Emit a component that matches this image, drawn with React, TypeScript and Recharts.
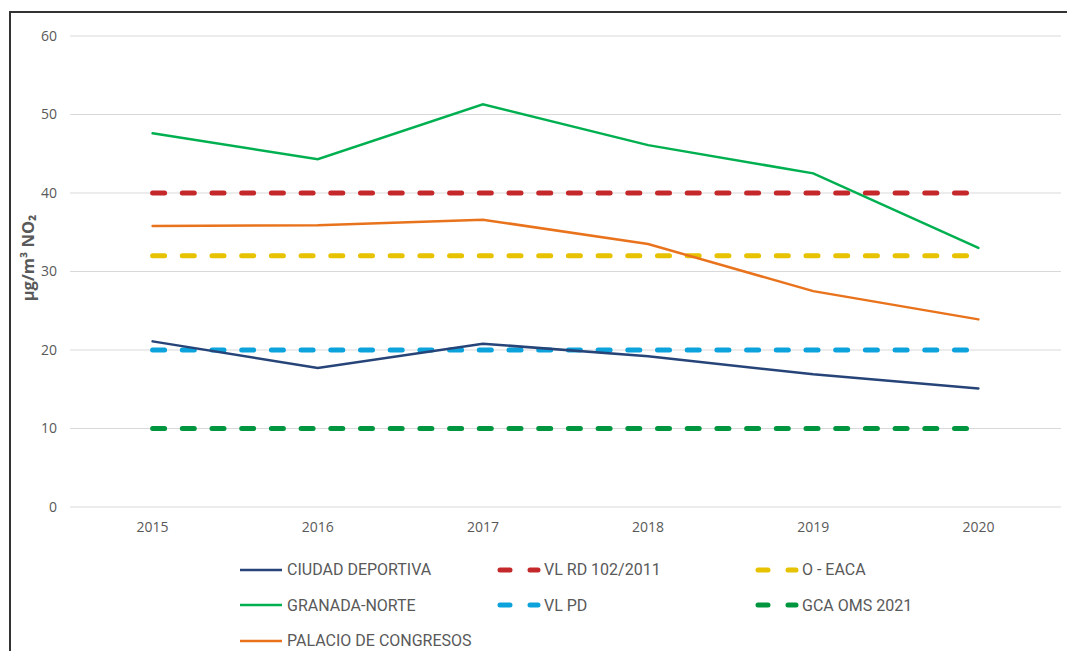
import React from 'react';
import { LineChart, Line, XAxis, YAxis, CartesianGrid } from 'recharts';

const years = ['2015', '2016', '2017', '2018', '2019', '2020'];
const ciudadDeportiva = [21.1, 17.7, 20.8, 19.2, 16.9, 15.1];
const granadaNorte = [47.6, 44.3, 51.3, 46.1, 42.5, 33.0];
const palacioCongresos = [35.8, 35.9, 36.6, 33.5, 27.5, 23.9];
const vlRd = [40, 40, 40, 40, 40, 40];
const oEaca = [32, 32, 32, 32, 32, 32];
const vlPd = [20, 20, 20, 20, 20, 20];
const gcaOms = [10, 10, 10, 10, 10, 10];
const yTicks = [0, 10, 20, 30, 40, 50, 60];

const data = years.map((year, i) => ({
  year,
  ciudad: ciudadDeportiva[i],
  granada: granadaNorte[i],
  palacio: palacioCongresos[i],
  vlRd: vlRd[i],
  oEaca: oEaca[i],
  vlPd: vlPd[i],
  gca: gcaOms[i],
}));

interface SeriesDef {
  key: string;
  name: string;
  color: string;
  dashed: boolean;
}

const series: SeriesDef[] = [
  { key: 'ciudad', name: 'CIUDAD DEPORTIVA', color: '#264478', dashed: false },
  { key: 'vlRd', name: 'VL RD 102/2011', color: '#c5282a', dashed: true },
  { key: 'oEaca', name: 'O - EACA', color: '#e6c200', dashed: true },
  { key: 'granada', name: 'GRANADA-NORTE', color: '#00b050', dashed: false },
  { key: 'vlPd', name: 'VL PD', color: '#0ca3dc', dashed: true },
  { key: 'gca', name: 'GCA OMS 2021', color: '#00963f', dashed: true },
  { key: 'palacio', name: 'PALACIO DE CONGRESOS', color: '#e9731c', dashed: false },
];

const textColor = '#595959';
const tickFont = { fill: textColor, fontSize: 14, fontFamily: "'Open Sans', sans-serif" };

const LegendIcon = ({ s }: { s: SeriesDef }) => (
  <svg width={44} height={8} style={{ marginRight: 3 }}>
    {s.dashed ? (
      <line x1={3} y1={4} x2={41} y2={4} stroke={s.color} strokeWidth={5} strokeLinecap="round" strokeDasharray="10 20" />
    ) : (
      <line x1={0} y1={4} x2={42} y2={4} stroke={s.color} strokeWidth={2.5} />
    )}
  </svg>
);

const AxisTitle = () => (
  <text
    x={27}
    y={258}
    transform="rotate(-90, 27, 258)"
    textAnchor="middle"
    dominantBaseline="central"
    fill={textColor}
    fontSize={16.5}
    fontWeight="bold"
    fontFamily="'Open Sans', sans-serif"
  >
    µg/m³ NO₂
  </text>
);

export default function App() {
  const drawOrder = ['vlRd', 'oEaca', 'vlPd', 'gca', 'ciudad', 'granada', 'palacio'];
  return (
    <div style={{ position: 'absolute', left: 0, top: 0, width: 1067, height: 651, background: '#fff', overflow: 'hidden' }}>
      <div style={{ position: 'absolute', left: 9, top: 11, width: 1100, height: 700, borderLeft: '2px solid #333', borderTop: '2px solid #333' }} />
      <div style={{ position: 'absolute', left: 0, top: 0 }}>
        <LineChart width={1067} height={545} data={data} margin={{ top: 36, right: 6, left: 10, bottom: 8 }}>
          <CartesianGrid vertical={false} stroke="#d9d9d9" strokeWidth={1} />
          <XAxis
            dataKey="year"
            axisLine={false}
            tickLine={false}
            tickMargin={9}
            height={30}
            padding={{ left: 82.6, right: 82.6 }}
            tick={tickFont}
          />
          <YAxis
            domain={[0, 60]}
            ticks={yTicks}
            axisLine={false}
            tickLine={false}
            tickMargin={7}
            width={60}
            tick={tickFont}
            label={<AxisTitle />}
          />
          {drawOrder.map((k) => {
            const s = series.find((x) => x.key === k)!;
            return (
              <Line
                key={s.key}
                dataKey={s.key}
                name={s.name}
                type="linear"
                stroke={s.color}
                strokeWidth={s.dashed ? 5 : 2.5}
                strokeDasharray={s.dashed ? '12 17.7' : undefined}
                strokeLinecap="round"
                dot={false}
                activeDot={false}
                isAnimationActive={false}
              />
            );
          })}
        </LineChart>
      </div>
      <div
        style={{
          position: 'absolute',
          left: 240,
          top: 552,
          display: 'grid',
          gridTemplateColumns: '257px 258px 257px',
          gridAutoRows: '35.5px',
          fontFamily: 'Roboto, sans-serif',
          fontSize: 16,
          color: textColor,
        }}
      >
        {series.map((s) => (
          <div key={s.key} style={{ display: 'flex', alignItems: 'center', whiteSpace: 'nowrap' }}>
            <LegendIcon s={s} />
            <span>{s.name}</span>
          </div>
        ))}
      </div>
    </div>
  );
}
